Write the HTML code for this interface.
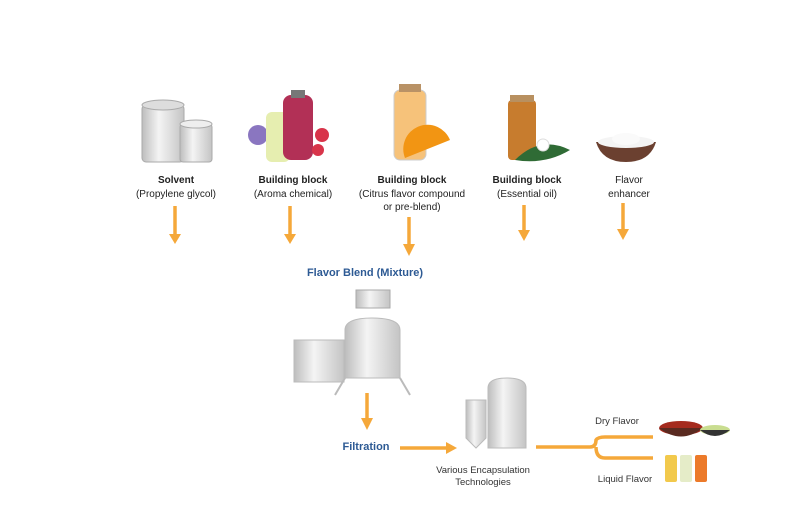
<!DOCTYPE html>
<html><head><style>
body{margin:0;background:#fff;}
svg{display:block;font-family:"Liberation Sans",sans-serif;}
</style></head><body>
<svg width="800" height="529" viewBox="0 0 800 529" xmlns="http://www.w3.org/2000/svg">
<defs>
<linearGradient id="m" x1="0" x2="1"><stop offset="0" stop-color="#bdbdbd"/><stop offset=".4" stop-color="#f4f4f4"/><stop offset="1" stop-color="#c4c4c4"/></linearGradient>
</defs>
<!-- Solvent -->
<rect x="142" y="105" width="42" height="57" rx="4" fill="url(#m)" stroke="#aaa"/>
<ellipse cx="163" cy="105" rx="21" ry="5" fill="#ddd" stroke="#aaa"/>
<rect x="180" y="124" width="32" height="38" rx="3" fill="url(#m)" stroke="#aaa"/>
<ellipse cx="196" cy="124" rx="16" ry="4" fill="#eee" stroke="#aaa"/>
<!-- Aroma -->
<circle cx="258" cy="135" r="10" fill="#8a76c0"/>
<rect x="266" y="112" width="24" height="50" rx="6" fill="#e6eeb0"/>
<rect x="283" y="95" width="30" height="65" rx="8" fill="#b23056"/>
<rect x="291" y="90" width="14" height="8" fill="#777"/>
<circle cx="322" cy="135" r="7" fill="#d8344a"/>
<circle cx="318" cy="150" r="6" fill="#d8344a"/>
<!-- Citrus -->
<rect x="394" y="90" width="32" height="70" rx="6" fill="#f6c27a" stroke="#ccc"/>
<rect x="399" y="84" width="22" height="8" fill="#b99266"/>
<path d="M405 158 A24 24 0 0 1 450 140 Z" fill="#f29513"/>
<!-- Essential oil -->
<rect x="508" y="100" width="28" height="60" rx="4" fill="#c77c2e"/>
<rect x="510" y="95" width="24" height="7" fill="#b89060"/>
<path d="M515 160 Q540 135 570 150 Q545 165 515 160Z" fill="#2f6b35"/>
<circle cx="543" cy="145" r="6" fill="#fff" stroke="#ddd"/>
<!-- Bowl -->
<path d="M596 142 L656 142 Q650 162 626 162 Q602 162 596 142Z" fill="#6b4030"/>
<ellipse cx="626" cy="142" rx="28" ry="6" fill="#f4f4f4"/>
<ellipse cx="626" cy="139" rx="14" ry="6" fill="#fafafa"/>

<g font-size="10" fill="#222" text-anchor="middle">
<text x="176" y="183" font-weight="bold">Solvent</text>
<text x="176" y="197">(Propylene glycol)</text>
<text x="293" y="183" font-weight="bold">Building block</text>
<text x="293" y="197">(Aroma chemical)</text>
<text x="412" y="183" font-weight="bold">Building block</text>
<text x="412" y="197">(Citrus flavor compound</text>
<text x="412" y="210">or pre-blend)</text>
<text x="527" y="183" font-weight="bold">Building block</text>
<text x="527" y="197">(Essential oil)</text>
<text x="629" y="183">Flavor</text>
<text x="629" y="197">enhancer</text>
</g>
<g fill="#f5a83a" stroke="#f5a83a" stroke-width="3.5">
<line x1="175" y1="206" x2="175" y2="236"/><path d="M169 234 L181 234 L175 244Z" stroke="none"/>
<line x1="290" y1="206" x2="290" y2="236"/><path d="M284 234 L296 234 L290 244Z" stroke="none"/>
<line x1="409" y1="217" x2="409" y2="246"/><path d="M403 244 L415 244 L409 256Z" stroke="none"/>
<line x1="524" y1="205" x2="524" y2="232"/><path d="M518 230 L530 230 L524 241Z" stroke="none"/>
<line x1="623" y1="203" x2="623" y2="231"/><path d="M617 229 L629 229 L623 240Z" stroke="none"/>
<line x1="367" y1="393" x2="367" y2="420"/><path d="M361 418 L373 418 L367 430Z" stroke="none"/>
<line x1="400" y1="448" x2="448" y2="448"/><path d="M446 442 L446 454 L457 448Z" stroke="none"/>
<path d="M536 447 L590 447 Q596 447 596 440 Q598 437 605 437 L653 437 M596 447 Q596 458 605 458 L653 458" fill="none"/>
</g>
<g font-weight="bold" fill="#2d5a94" font-size="11" text-anchor="middle">
<text x="365" y="276">Flavor Blend (Mixture)</text>
<text x="366" y="450">Filtration</text>
</g>
<!-- mixer -->
<rect x="356" y="290" width="34" height="18" fill="url(#m)" stroke="#aaa"/>
<rect x="294" y="340" width="50" height="42" fill="url(#m)" stroke="#bbb"/>
<path d="M345 330 Q345 318 372 318 Q400 318 400 330 L400 378 L345 378Z" fill="url(#m)" stroke="#bbb"/>
<line x1="345" y1="378" x2="335" y2="395" stroke="#bbb" stroke-width="2"/>
<line x1="400" y1="378" x2="410" y2="395" stroke="#bbb" stroke-width="2"/>
<!-- encapsulation -->
<path d="M466 400 L486 400 L486 438 L476 448 L466 438Z" fill="url(#m)" stroke="#bbb"/>
<path d="M488 388 Q488 378 507 378 Q526 378 526 388 L526 448 L488 448Z" fill="url(#m)" stroke="#bbb"/>
<g font-size="9.5" fill="#333" text-anchor="middle">
<text x="483" y="473">Various Encapsulation</text>
<text x="483" y="485">Technologies</text>
<text x="617" y="424">Dry Flavor</text>
<text x="625" y="482">Liquid Flavor</text>
</g>
<ellipse cx="681" cy="428" rx="22" ry="7" fill="#a52b1e"/>
<path d="M659 428 Q681 445 703 428Z" fill="#5a2a20"/>
<ellipse cx="715" cy="430" rx="15" ry="5" fill="#c9dd90"/>
<path d="M700 430 Q715 442 730 430Z" fill="#333"/>
<rect x="665" y="455" width="12" height="27" rx="2" fill="#f2c94c"/>
<rect x="680" y="455" width="12" height="27" rx="2" fill="#e5ecc8"/>
<rect x="695" y="455" width="12" height="27" rx="2" fill="#ec7a2a"/>
</svg>
</body></html>
